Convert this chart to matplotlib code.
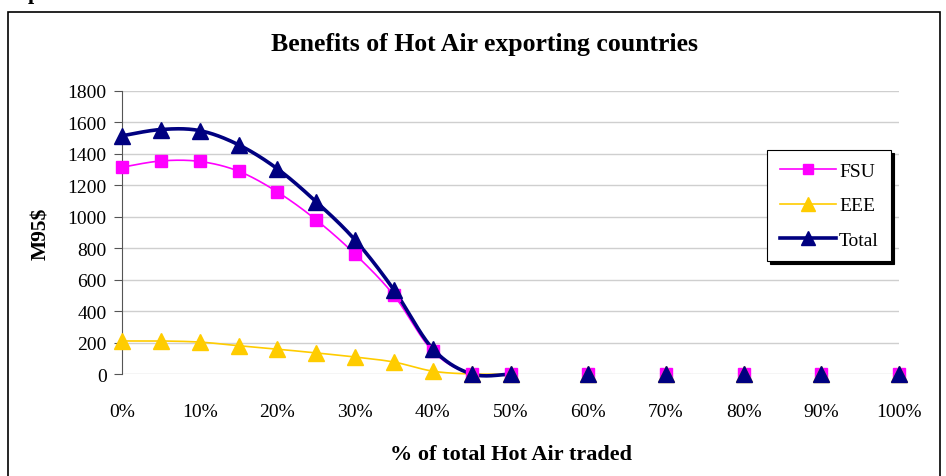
import matplotlib.pyplot as plt
import numpy as np

plt.rcParams['font.family'] = ['Liberation Serif', 'DejaVu Serif']

# Data (M95$)
share = [0, 5, 10, 15, 20, 25, 30, 35, 40, 45, 50, 60, 70, 80, 90, 100]
fsu = [1315, 1355, 1352, 1290, 1158, 980, 762, 500, 145, 0, 0, 0, 0, 0, 0, 0]
eee = [210, 210, 203, 180, 158, 134, 108, 76, 18, 0, 0, 0, 0, 0, 0, 0]
total = [1515, 1555, 1548, 1458, 1305, 1095, 852, 535, 160, 0, 0, 0, 0, 0, 0, 0]
xticks = list(range(0, 101, 10))
n_joined = 11  # the lines run only from 0% to 50%, the rest are lone points


def smooth(x, y, n=30):
    # Excel-like smoothed line: cubic Bezier with Catmull-Rom control points
    x = np.asarray(x, float)
    y = np.asarray(y, float)
    xs, ys = [], []
    for i in range(len(x) - 1):
        i0 = max(i - 1, 0)
        i3 = min(i + 2, len(x) - 1)
        c1x = x[i] + (x[i + 1] - x[i0]) / 6
        c1y = y[i] + (y[i + 1] - y[i0]) / 6
        c2x = x[i + 1] - (x[i3] - x[i]) / 6
        c2y = y[i + 1] - (y[i3] - y[i]) / 6
        t = np.linspace(0, 1, n)
        a, b, c, d = (1 - t) ** 3, 3 * t * (1 - t) ** 2, 3 * t ** 2 * (1 - t), t ** 3
        xs.append(a * x[i] + b * c1x + c * c2x + d * x[i + 1])
        ys.append(a * y[i] + b * c1y + c * c2y + d * y[i + 1])
    return np.concatenate(xs), np.concatenate(ys)


fig = plt.figure(figsize=(9.46, 4.77), dpi=100)
ax = fig.add_axes([122 / 946, 1 - 375 / 477, 777 / 946, 283 / 477])

series = [
    ("FSU", fsu, "#FF00FF", "s", 1.2, 8),
    ("EEE", eee, "#FFCC00", "^", 1.2, 11.5),
    ("Total", total, "#000080", "^", 2.6, 11.5),
]
for name, vals, col, mk, lw, ms in series:
    sx, sy = smooth(share[:n_joined], vals[:n_joined])
    ax.plot(sx, sy, color=col, lw=lw, clip_on=False, zorder=3)
    ax.plot(share, vals, linestyle="none", marker=mk, color=col, ms=ms,
            clip_on=False, zorder=4)
    ax.plot([], [], color=col, lw=lw, marker=mk, ms=ms * 0.85, label=name)

ax.set_xlim(0, 100)
ax.set_ylim(0, 1800)
ax.set_yticks(range(0, 1801, 200))
ax.set_xticks(xticks)
ax.set_xticklabels([f"{v}%" for v in xticks])
ax.grid(axis="y", color="#CFCFCF", lw=1)
ax.set_axisbelow(True)
for s in ["top", "right", "bottom"]:
    ax.spines[s].set_visible(False)
ax.spines["left"].set_color("#555555")
ax.tick_params(axis="y", direction="out", length=6, color="#555555", labelsize=14, pad=5)
ax.tick_params(axis="x", length=0, labelsize=14, pad=21)

fig.text(484 / 946, 1 - 45 / 477, "Benefits of Hot Air exporting countries",
         fontsize=18.5, fontweight="bold", ha="center", va="center")
ax.set_ylabel("M95$", fontsize=15.5, fontweight="bold", labelpad=12)
ax.set_xlabel("% of total Hot Air traded", fontsize=16, fontweight="bold", labelpad=17)

leg = ax.legend(loc="upper left", bbox_to_anchor=(767 / 946, 1 - 151 / 477),
                bbox_transform=fig.transFigure, frameon=True, fancybox=False,
                shadow={"color": "black", "alpha": 1}, fontsize=14, borderaxespad=0,
                handlelength=2.9, labelspacing=0.85, borderpad=0.65, handletextpad=0.15)
leg.get_frame().set_edgecolor("black")
leg.get_frame().set_linewidth(0.8)

# outer chart border (bottom edge runs off the picture)
fig.add_artist(plt.Rectangle((8 / 946, -0.05), 932 / 946, 1 - 13 / 477 + 0.05,
                             transform=fig.transFigure, fill=False, ec="black", lw=1.2))
fig.text(28 / 946, 1 + 1 / 477, "p", fontsize=16, fontweight="bold", va="baseline")

fig.savefig("out.png", dpi=100)
